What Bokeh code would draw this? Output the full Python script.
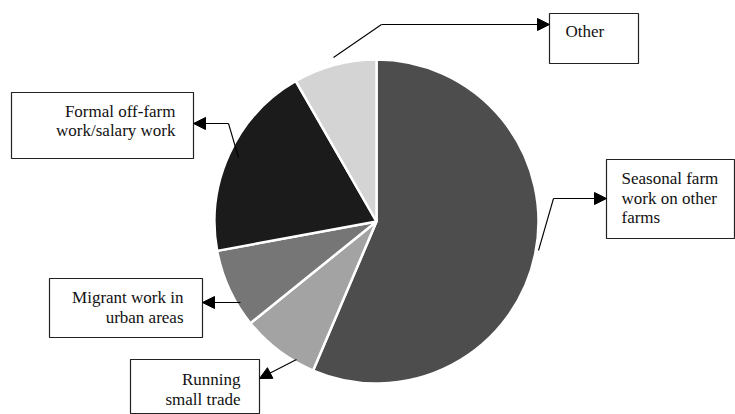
import numpy as np
from bokeh.plotting import figure
from bokeh.models import Range1d, Arrow, NormalHead, ColumnDataSource, Label
from bokeh.embed import file_html
from bokeh.resources import INLINE

# Sources of off-farm income (share of households, %), clockwise from the top
categories = [
    "Seasonal farm work on other farms",
    "Running small trade",
    "Migrant work in urban areas",
    "Formal off-farm work/salary work",
    "Other",
]
shares = [56.4, 7.8, 7.9, 19.6, 8.3]
colors = ["#4d4d4d", "#a3a3a3", "#767676", "#1b1b1b", "#d4d4d4"]

# Callout label lines for each slice
label_lines = [
    ["Seasonal farm", "work on other", "farms"],
    ["Running", "small trade"],
    ["Migrant work in", "urban areas"],
    ["Formal off-farm", "work/salary work"],
    ["Other"],
]

W, H = 735, 414


def fy(y):
    """Convert a top-down pixel row to the upward data axis."""
    return H - y


p = figure(width=W, height=H, x_range=Range1d(0, W), y_range=Range1d(0, H),
           x_axis_type=None, y_axis_type=None, output_backend="svg",
           toolbar_location=None, min_border=0)
p.grid.visible = False
p.outline_line_color = None

# --- pie ---------------------------------------------------------------
cx, cy, r = 376, fy(221), 162
frac = np.cumsum([0.0] + shares) / sum(shares) * 2 * np.pi
pie = ColumnDataSource(dict(
    start=np.pi / 2 - frac[:-1],
    end=np.pi / 2 - frac[1:],
    color=colors,
))
p.wedge(x=cx, y=cy, radius=r, start_angle="start", end_angle="end",
        direction="clock", fill_color="color", line_color="white",
        line_width=2.5, source=pie)

# --- callout boxes (left, right, top, bottom in pixel rows) -------------
boxes = [
    (606, 734, 159, 238),   # seasonal
    (130, 259, 359, 413),   # running
    (49, 202, 278, 337),    # migrant
    (11, 193, 92, 158),     # formal
    (549, 638, 13, 63),     # other
]
p.quad(left=[b[0] for b in boxes], right=[b[1] for b in boxes],
       top=[fy(b[2]) for b in boxes], bottom=[fy(b[3]) for b in boxes],
       fill_color="white", line_color="#222222", line_width=1.2)

# --- leader lines with arrowheads --------------------------------------
leaders = [
    [(538, 250), (553, 198), (606, 198)],
    [(296, 359), (259, 378)],
    [(240, 302), (202, 302)],
    [(238, 157), (228, 123), (193, 123)],
    [(333, 57), (381, 24), (549, 24)],
]
for pts in leaders:
    if len(pts) > 2:
        p.line(x=[q[0] for q in pts[:-1]], y=[fy(q[1]) for q in pts[:-1]],
               line_color="black", line_width=1.1)
    (x0, y0), (x1, y1) = pts[-2], pts[-1]
    p.add_layout(Arrow(
        end=NormalHead(size=12, fill_color="black", line_color="black"),
        x_start=x0, y_start=fy(y0), x_end=x1, y_end=fy(y1),
        line_color="black", line_width=1.1))

# --- label text (drawn last, above everything) -------------------------
# (anchor x, first baseline, line step, alignment)
anchors = [
    (621, 184, 19.3, "left"),
    (240, 385, 20, "right"),
    (183, 303, 19.5, "right"),
    (175, 117, 19, "right"),
    (565, 37, 19, "left"),
]
MID = 5.7  # baseline-to-middle offset at 17px
for lines, (ax, by, step, align) in zip(label_lines, anchors):
    for i, line in enumerate(lines):
        p.add_layout(Label(
            x=ax, y=fy(by + i * step - MID), text=line, level="overlay",
            text_font="Liberation Serif", text_font_size="17px",
            text_color="#111111", text_align=align, text_baseline="middle"))

open("out.html", "w").write(file_html(p, INLINE))
